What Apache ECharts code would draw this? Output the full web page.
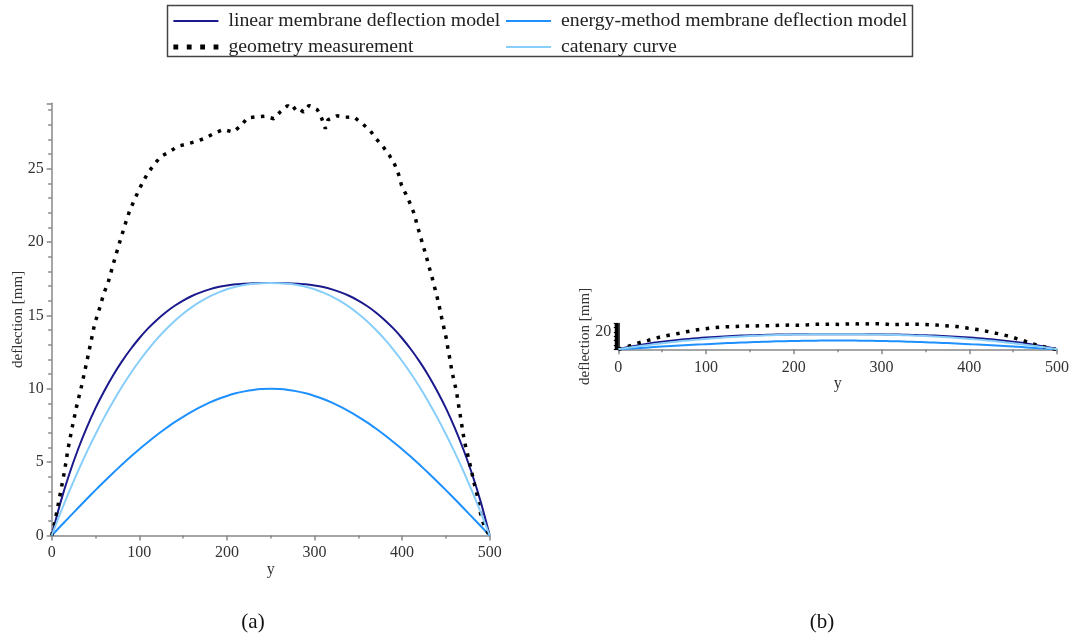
<!DOCTYPE html>
<html>
<head>
<meta charset="utf-8">
<script src="https://cdn.jsdelivr.net/npm/echarts@6/dist/echarts.min.js"></script>
<style>
  html, body { margin: 0; padding: 0; background: #fff; }
  #chart { width: 1072px; height: 637px; }
</style>
</head>
<body>
<div id="chart"></div>
<script>
// Position along the membrane, y [mm], for the model curves
const positions = [0, 10, 20, 30, 40, 50, 60, 70, 80, 90, 100, 110, 120, 130, 140, 150, 160, 170, 180, 190, 200,
  210, 220, 230, 240, 250, 260, 270, 280, 290, 300, 310, 320, 330, 340, 350, 360, 370, 380, 390, 400,
  410, 420, 430, 440, 450, 460, 470, 480, 490, 500];

// Deflection [mm] of each model at those positions
const linearModel = [0, 2.24, 4.17, 5.86, 7.35, 8.68, 9.85, 10.91, 11.85, 12.69, 13.44, 14.11, 14.69, 15.2, 15.64,
  16.01, 16.32, 16.57, 16.77, 16.93, 17.04, 17.12, 17.16, 17.19, 17.2, 17.2,
  17.2, 17.19, 17.16, 17.12, 17.04, 16.93, 16.77, 16.57, 16.32, 16.01, 15.64, 15.2, 14.69, 14.11, 13.44,
  12.69, 11.85, 10.91, 9.85, 8.68, 7.35, 5.86, 4.17, 2.24, 0];
const energyModel = [0, 0.63, 1.25, 1.87, 2.49, 3.09, 3.68, 4.26, 4.82, 5.36, 5.88, 6.37, 6.85, 7.29, 7.71,
  8.09, 8.44, 8.76, 9.05, 9.3, 9.51, 9.69, 9.82, 9.92, 9.98, 10,
  9.98, 9.92, 9.82, 9.69, 9.51, 9.3, 9.05, 8.76, 8.44, 8.09, 7.71, 7.29, 6.85, 6.37, 5.88,
  5.36, 4.82, 4.26, 3.68, 3.09, 2.49, 1.87, 1.25, 0.63, 0];
const catenaryCurve = [0, 1.54, 3.0, 4.38, 5.68, 6.9, 8.05, 9.12, 10.12, 11.04, 11.89, 12.67, 13.38, 14.02, 14.6,
  15.11, 15.56, 15.95, 16.28, 16.55, 16.78, 16.95, 17.07, 17.15, 17.19, 17.2,
  17.19, 17.15, 17.07, 16.95, 16.78, 16.55, 16.28, 15.95, 15.56, 15.11, 14.6, 14.02, 13.38, 12.67, 11.89,
  11.04, 10.12, 9.12, 8.05, 6.9, 5.68, 4.38, 3.0, 1.54, 0];

// Measured geometry: positions and deflections
const geoPositions = [0, 3.4, 5.7, 10.3, 14.8, 18.6, 23.2, 28.2, 33.9, 39.2, 44.2, 49.1, 52.9, 59.7, 64.3, 70.8,
  77.6, 84.8, 88.7, 93.6, 98.5, 103.9, 109.9, 117.2, 124.4, 134.7, 143.8, 154.5, 165.5, 174.7, 185.3, 196,
  207, 216.1, 223.4, 233.7, 243.9, 253.4, 261.4, 269.4, 274.3, 280, 287.3, 293.7, 303.3, 308.2, 312.4, 315.4,
  325.7, 334.5, 345.5, 354.7, 363.4, 370.3, 378.3, 385.5, 391.6, 396.1, 399.2, 404.5, 409.5, 414, 417, 420.4,
  423.9, 427.3, 430.4, 433.8, 436.8, 439.8, 442.5, 445.2, 447.8, 450.4, 452.4, 454.7, 456.6, 459.2, 462, 463.8,
  465.8, 467.7, 469.5, 471.8, 474.9, 477.6, 480.3, 482.9, 486, 487.8, 490.6, 494.5, 500];
const geoDeflection = [0, 0.86, 1.58, 3.01, 4.44, 5.89, 7.31, 8.74, 10.14, 11.6, 13.02, 14.45, 15.13, 16.53, 17.21, 18.61,
  19.99, 21.38, 22.08, 22.76, 23.41, 24.07, 24.71, 25.29, 25.82, 26.15, 26.52, 26.68, 26.86, 27.06, 27.4, 27.67,
  27.49, 27.92, 28.46, 28.53, 28.58, 28.4, 28.89, 29.3, 28.99, 29.23, 28.85, 29.3, 29.01, 28.42, 27.72, 28.33,
  28.6, 28.51, 28.49, 28.06, 27.6, 27.04, 26.49, 25.9, 25.27, 24.59, 23.89, 23.23, 22.58, 21.9, 21.17, 20.49,
  19.77, 19.09, 18.39, 17.68, 16.98, 16.3, 15.6, 14.83, 14.13, 13.44, 12.7, 11.98, 11.28, 10.55, 9.85, 9.12,
  8.4, 7.7, 6.98, 6.25, 5.5, 4.82, 4.1, 3.4, 2.67, 1.95, 1.22, 0.52, 0];

const seriesNames = ['linear membrane deflection model', 'energy-method membrane deflection model',
  'geometry measurement', 'catenary curve'];
const panelLabels = ['(a)', '(b)'];
const compactYLabels = [20];

const SERIF = "'Liberation Serif', 'DejaVu Serif', serif";
const AXIS_GREY = '#888';
const TEXT = '#333';

const pairs = (xs, ys) => xs.map((x, i) => [x, ys[i]]);

function xAxisFor(gridIndex, margin, nameGap) {
  return {
    gridIndex, type: 'value', min: 0, max: 500, interval: 100,
    name: 'y', nameLocation: 'middle', nameGap, nameMoveOverlap: false,
    nameTextStyle: { fontFamily: SERIF, fontSize: 16, color: TEXT },
    axisLine: { onZero: false, lineStyle: { color: AXIS_GREY, width: 1.5 } },
    axisTick: { show: true, inside: false, length: 5, lineStyle: { color: AXIS_GREY, width: 1.5 } },
    minorTick: { show: true, splitNumber: 2, length: 3, lineStyle: { color: AXIS_GREY, width: 1.5 } },
    axisLabel: { fontFamily: SERIF, fontSize: 16, color: TEXT, margin },
    splitLine: { show: false }, minorSplitLine: { show: false }
  };
}

function curveSeries(name, color, xAxisIndex, data, extra) {
  return Object.assign({
    name, type: 'line', xAxisIndex, yAxisIndex: xAxisIndex, data,
    showSymbol: false, symbol: 'none', smooth: 0.25,
    color, lineStyle: { color, width: 2 }, z: 2, silent: true
  }, extra || {});
}

function seriesForPanel(idx) {
  return [
    curveSeries(seriesNames[0], '#1a1a8c', idx, pairs(positions, linearModel)),
    curveSeries(seriesNames[1], '#1E90FF', idx, pairs(positions, energyModel)),
    curveSeries(seriesNames[2], '#000', idx, pairs(geoPositions, geoDeflection), {
      smooth: false,
      lineStyle: { color: '#000', width: 3.5, type: [3.5, 6.5], cap: 'butt' }
    }),
    curveSeries(seriesNames[3], '#87CEFA', idx, pairs(positions, catenaryCurve))
  ];
}

const legendCommon = {
  orient: 'vertical', top: 11, itemWidth: 45, itemHeight: 14, itemGap: 6, padding: 0,
  selectedMode: false,
  itemStyle: { opacity: 0, borderWidth: 0 },
  textStyle: { fontFamily: SERIF, fontSize: 19.8, color: '#222', padding: [0, 0, 0, 5] }
};

function yAxisFor(gridIndex, lineColor, labelFormatter) {
  const compact = gridIndex === 1;
  return {
    gridIndex, type: 'value', min: 0, max: 29.45, interval: 5,
    name: 'deflection [mm]', nameLocation: 'middle', nameGap: 26, nameMoveOverlap: false,
    nameTextStyle: { fontFamily: SERIF, fontSize: 15, color: TEXT },
    axisLine: { onZero: false, lineStyle: { color: lineColor, width: 1.5 } },
    axisTick: { show: true, inside: false, length: compact ? 4.5 : 5, lineStyle: { color: lineColor, width: compact ? 1.2 : 1.5 } },
    minorTick: { show: true, splitNumber: 5, length: 3.5, lineStyle: { color: lineColor, width: compact ? 1 : 1.5 } },
    axisLabel: Object.assign({ fontFamily: SERIF, fontSize: 16, color: TEXT, margin: compact ? 7 : 8, showMaxLabel: false },
      labelFormatter ? { formatter: labelFormatter } : {}),
    splitLine: { show: false }, minorSplitLine: { show: false }
  };
}

const chart = echarts.init(document.getElementById('chart'), null, { renderer: 'canvas' });
chart.setOption({
  animation: false,
  backgroundColor: '#fff',
  legend: [
    Object.assign({
      left: 171,
      data: [
        seriesNames[0],
        { name: seriesNames[2], lineStyle: { width: 4.8, type: [4.8, 8.6], cap: 'butt' } }
      ]
    }, legendCommon),
    Object.assign({ left: 505, data: [seriesNames[1], seriesNames[3]] }, legendCommon)
  ],
  grid: [
    { left: 51.7, top: 103.3, width: 438, height: 432.2 },
    { left: 618.3, top: 323.5, width: 439, height: 25.8 }
  ],
  xAxis: [xAxisFor(0, 9, 26), xAxisFor(1, 10, 26)],
  yAxis: [
    yAxisFor(0, AXIS_GREY, null),
    yAxisFor(1, '#000', v => (compactYLabels.indexOf(v) >= 0 ? String(v) : ''))
  ],
  graphic: [
    {
      type: 'rect', silent: true,
      shape: { x: 167.5, y: 5.5, width: 745, height: 51 },
      style: { fill: 'none', stroke: '#444', lineWidth: 1.5 }
    },
    {
      type: 'text', x: 253, y: 622, silent: true,
      style: { text: panelLabels[0], font: '21px ' + SERIF, fill: '#111', textAlign: 'center', textVerticalAlign: 'middle' }
    },
    {
      type: 'text', x: 822, y: 622, silent: true,
      style: { text: panelLabels[1], font: '21px ' + SERIF, fill: '#111', textAlign: 'center', textVerticalAlign: 'middle' }
    }
  ],
  series: seriesForPanel(0).concat(seriesForPanel(1))
});
</script>
</body>
</html>
